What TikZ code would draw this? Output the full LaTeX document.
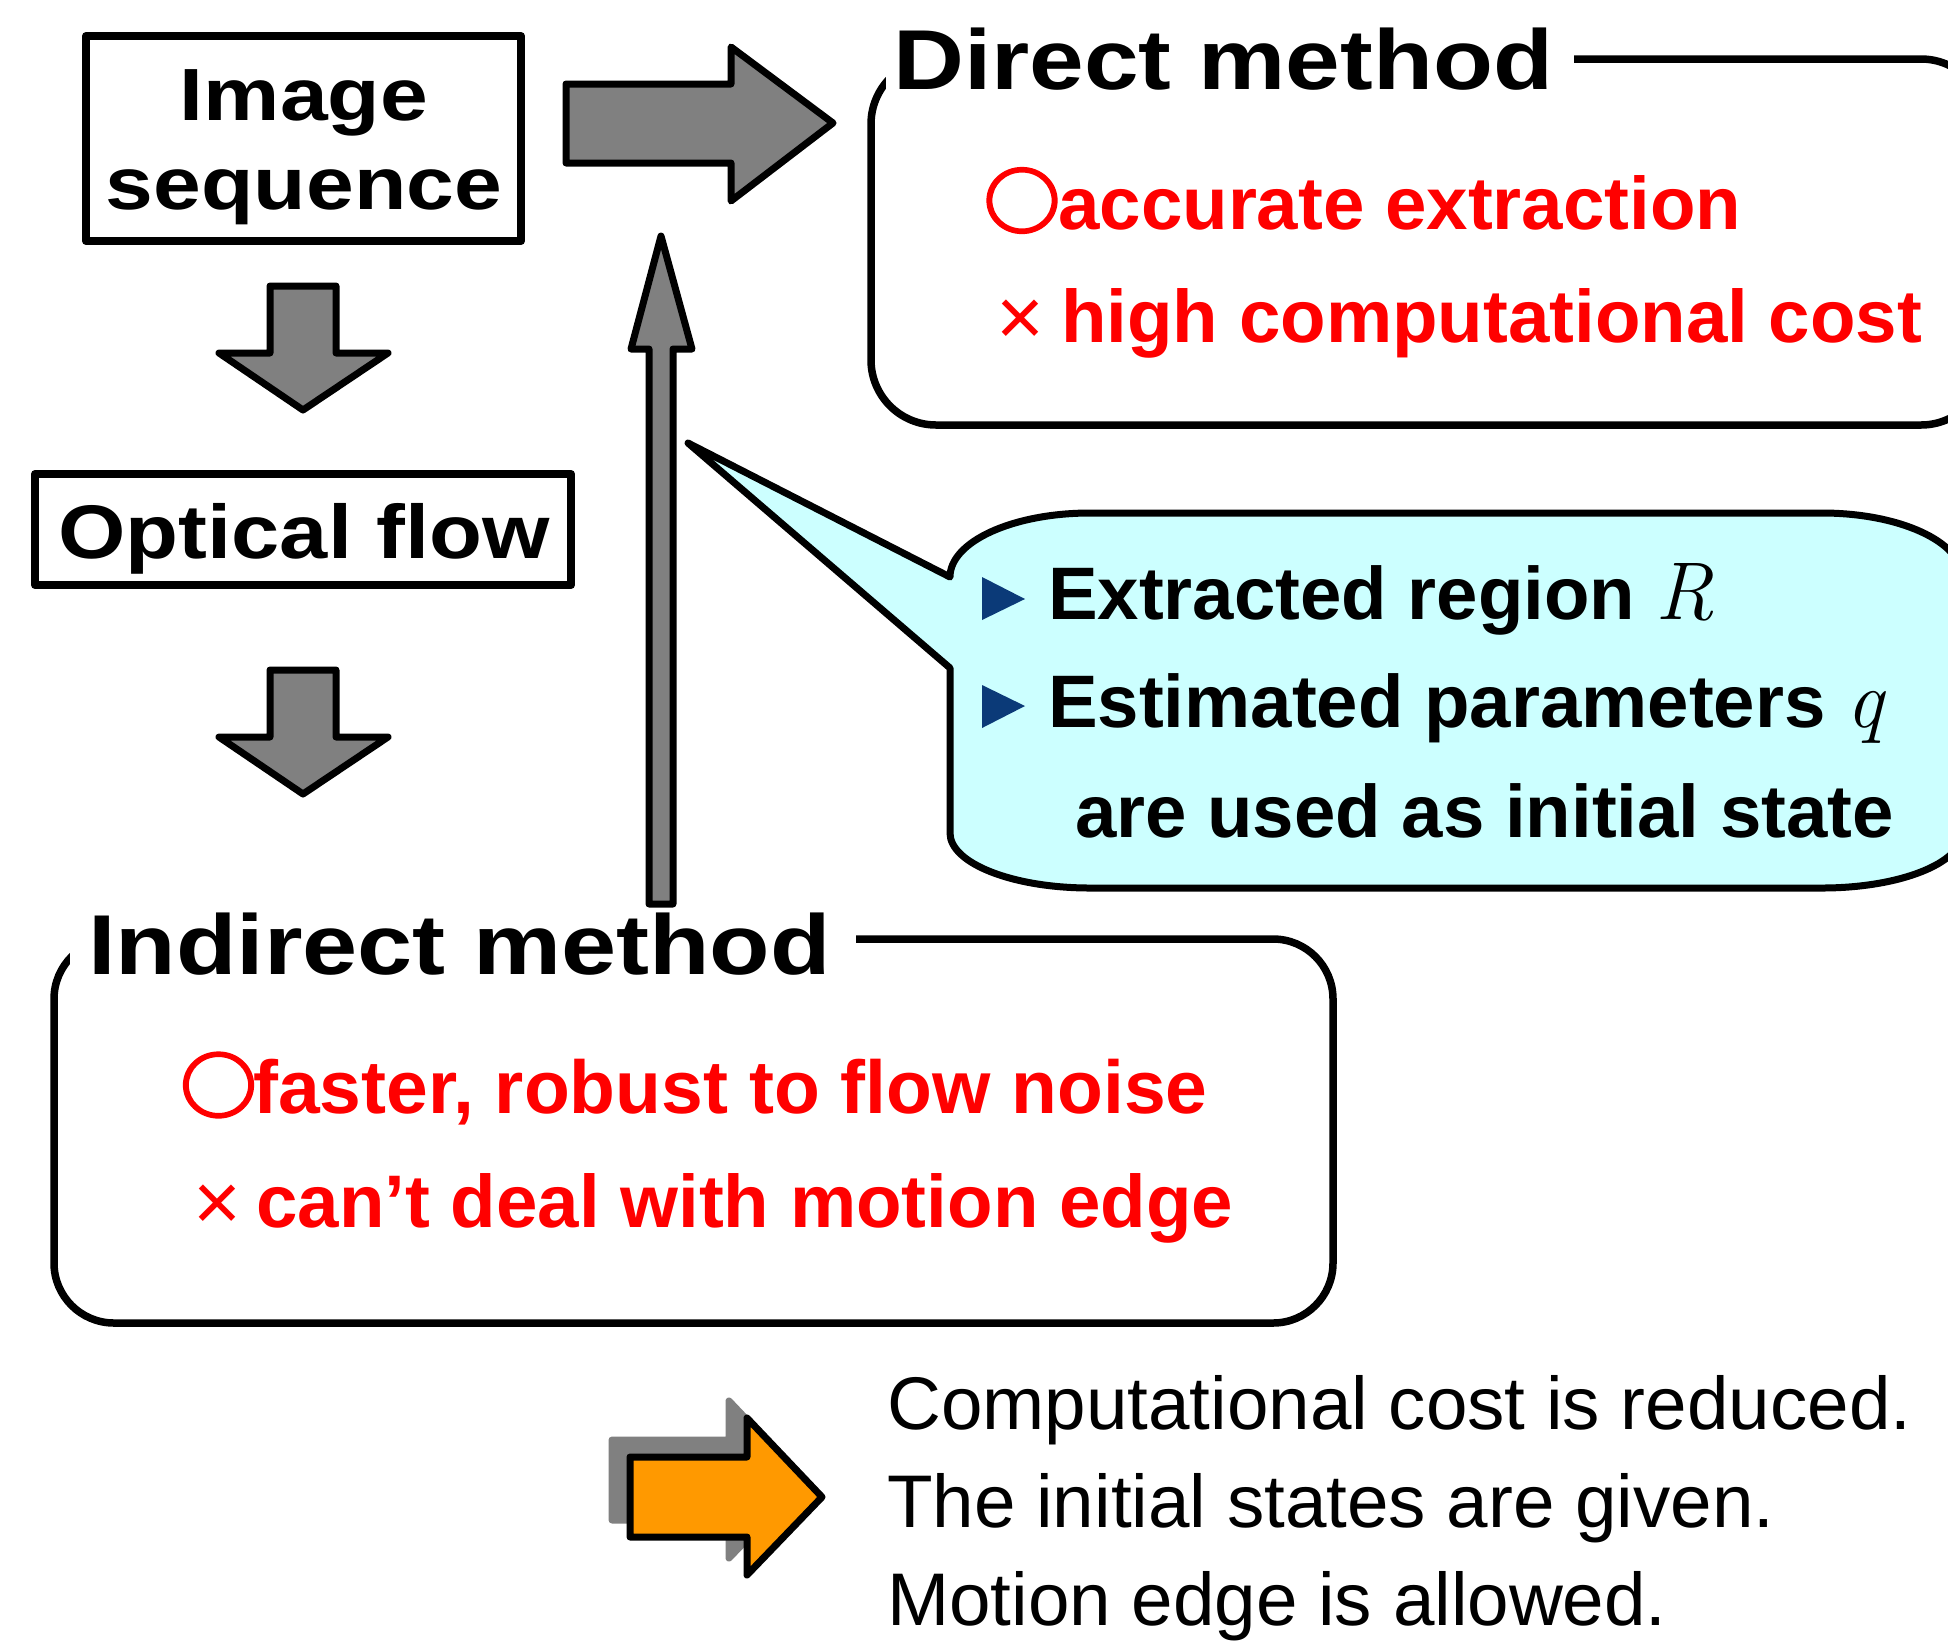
\documentclass[tikz,border=0pt]{standalone}
\usepackage{fontspec}
\setmainfont{Liberation Sans}
\newfontfamily\cjk[FakeBold=3]{Noto Sans CJK JP}
\newfontfamily\lmr{Latin Modern Roman}

\definecolor{arrowgray}{HTML}{808080}
\definecolor{calloutcyan}{HTML}{CCFFFF}
\definecolor{bulletblue}{HTML}{0B3A78}
\definecolor{accent}{HTML}{FF9900}
\definecolor{pro}{HTML}{FF0000}

\tikzset{
  outline/.style={draw=black, line width=7pt, line join=round},
  framebox/.style={draw=black, line width=8pt, line join=round},
  blockarrow/.style={outline, fill=arrowgray},
  titletext/.style={font=\fontsize{85}{100}\selectfont\bfseries, anchor=base west, inner sep=0pt},
  boxlabel/.style={font=\fontsize{74}{88}\selectfont\bfseries, anchor=base, inner sep=0pt},
  redtext/.style={font=\fontsize{74.5}{88}\selectfont\bfseries, text=pro, anchor=base west, inner sep=0pt},
  markglyph/.style={text=pro, inner sep=0pt, anchor=center},
  bodytext/.style={font=\fontsize{74.4}{88}\selectfont\bfseries, anchor=base west, inner sep=0pt},
  plaintext/.style={font=\fontsize{74.6}{88}\selectfont, anchor=base west, inner sep=0pt},
  bulletfill/.style={fill=bulletblue},
}
\newcommand{\okmark}{\scalebox{1.06}[1]{\resizebox*{!}{65pt}{\cjk\bfseries ○}}}
\newcommand{\ngmark}{{\fontsize{82}{90}\selectfont\mdseries ×}}
\newcommand{\mathvar}[1]{{\lmr\mdseries\itshape\fontsize{82}{90}\selectfont #1}}

\begin{document}
\begin{tikzpicture}[x=1pt, y=-1pt]
\useasboundingbox (0,0) rectangle (1948,1642);
\clip (0,0) rectangle (1948,1642);
\fill[white] (0,0) rectangle (1948,1642);

% ---- Image sequence ----
\draw[framebox] (86,36) rectangle (521,241);
\node[boxlabel] (img1) at (304,120) {\scalebox{1.16}[1]{Image}};
\node[boxlabel] (img2) at (304,209) {\scalebox{1.16}[1]{sequence}};

% ---- Optical flow ----
\draw[framebox] (35,474) rectangle (571,585);
\node[boxlabel, font=\fontsize{76}{90}\selectfont\bfseries] (flow) at (304,558) {\scalebox{1.14}[1]{Optical flow}};

% ---- down arrows ----
\draw[blockarrow] (270,286) -- (336,286) -- (336,353) -- (388,353) -- (303,410) -- (219,353) -- (270,353) -- cycle;
\draw[blockarrow] (270,670) -- (336,670) -- (336,737) -- (388,737) -- (303,794) -- (219,737) -- (270,737) -- cycle;

% ---- arrow to the direct method ----
\draw[blockarrow] (566,84) -- (731,84) -- (731,47) -- (833,123) -- (731,201) -- (731,163) -- (566,163) -- cycle;

% ---- Direct method box ----
\draw[outline, line width=7.5pt, rounded corners=65pt] (871,59) rectangle (1986,425);
\fill[white] (886,12) rectangle (1574,100);
\node[titletext] (direct) at (893,89) {\scalebox{1.155}[1]{Direct method}};
\node[markglyph] (ok1) at (1022,200.5) {\okmark};
\node[redtext] (pro1) at (1058,229) {accurate extraction};
\node[markglyph] (ng1) at (1020,323) {\ngmark};
\node[redtext] (con1) at (1061,342) {high computational cost};

% ---- callout ----
\draw[outline, fill=calloutcyan] (688,443) -- (950,577)
  arc[start angle=180, end angle=270, x radius=140, y radius=64] -- (1822,513)
  arc[start angle=270, end angle=360, x radius=140, y radius=64] -- (1962,833)
  arc[start angle=0, end angle=90, x radius=140, y radius=55] -- (1090,888)
  arc[start angle=90, end angle=180, x radius=140, y radius=55] -- (950,668) -- cycle;
\fill[bulletfill] (982,577) -- (1025,599) -- (982,620) -- cycle;
\fill[bulletfill] (982,685) -- (1025,706) -- (982,728) -- cycle;
\node[bodytext] (reg) at (1048,619) {Extracted region \mathvar{R}};
\node[bodytext] (par) at (1048,727) {Estimated parameters \mathvar{q}};
\node[bodytext] (init) at (1075,837) {are used as initial state};

% ---- Indirect method box ----
\draw[outline, line width=7.5pt, rounded corners=60pt] (54,939) rectangle (1333,1323);
\fill[white] (70,890) rectangle (856,990);
\node[titletext] (indirect) at (88,974) {\scalebox{1.165}[1]{Indirect method}};
\node[markglyph] (ok2) at (218.5,1085) {\okmark};
\node[redtext, font=\fontsize{75}{88}\selectfont\bfseries] (pro2) at (253,1113) {faster, robust to flow noise};
\node[markglyph] (ng2) at (217,1208) {\ngmark};
\node[redtext] (con2) at (256,1227) {can’t deal with motion edge};

% ---- feedback arrow from indirect to direct ----
\draw[blockarrow] (649,904) -- (649,349) -- (631,349) -- (661,236) -- (692,349) -- (673,349) -- (673,904) -- cycle;

% ---- conclusion arrow with shadow ----
\begin{scope}[shift={(-18,-17)}]
\draw[fill=arrowgray, draw=arrowgray, line width=7pt, line join=round]
  (630,1457) -- (747,1457) -- (747,1418) -- (822,1497) -- (747,1575) -- (747,1537) -- (630,1537) -- cycle;
\end{scope}
\draw[outline, fill=accent] (630,1457) -- (747,1457) -- (747,1418) -- (822,1497) -- (747,1575) -- (747,1537) -- (630,1537) -- cycle;

\node[plaintext] (c1) at (887,1429) {Computational cost is reduced.};
\node[plaintext] (c2) at (887,1527) {The initial states are given.};
\node[plaintext] (c3) at (887,1625) {Motion edge is allowed.};
\end{tikzpicture}
\end{document}
